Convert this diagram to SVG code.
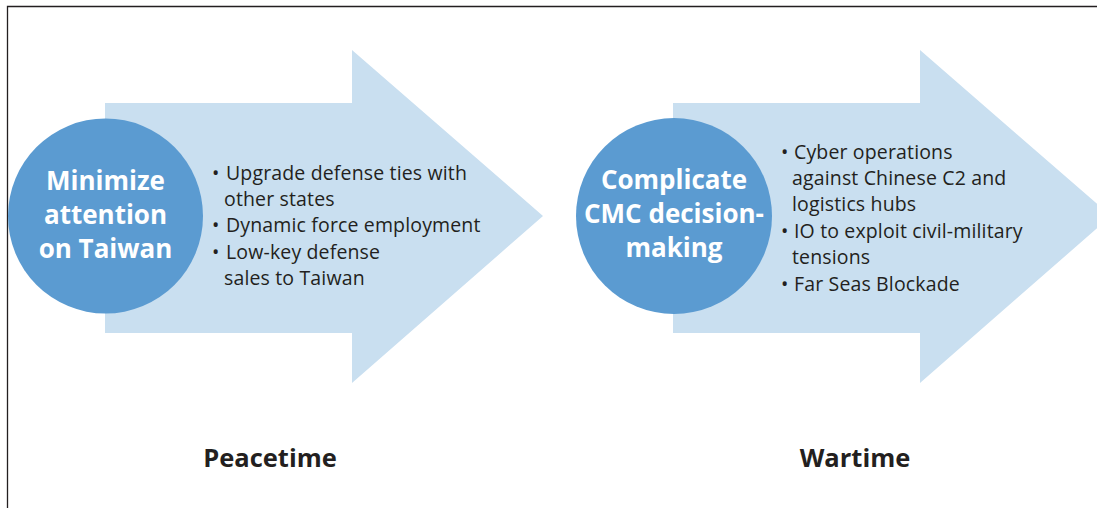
<svg xmlns="http://www.w3.org/2000/svg" width="1097" height="508" viewBox="0 0 1097 508">
<style>
.frame{fill:none;stroke:#231f20;stroke-width:1.3}
.arrow{fill:#c9dff0}
.circle{fill:#5b9bd1}
.ctitle{font-family:"Open Sans","Noto Sans",sans-serif;font-weight:700;font-size:26px;fill:#ffffff;text-anchor:middle}
.bul{font-family:"Open Sans","Noto Sans",sans-serif;font-size:19.5px;letter-spacing:0.15px;fill:#231f20}
.phase{font-family:"Open Sans","Noto Sans",sans-serif;font-weight:700;font-size:25.5px;fill:#231f20;text-anchor:middle}
</style>
<rect width="1097" height="508" fill="#ffffff"/>
<path class="frame" d="M7.5,508 V6.5 H1097"/>
<g id="peacetime">
<polygon class="arrow" points="105,103 352,103 352,50 543,216 352,383 352,333 105,333"/>
<circle class="circle" cx="105.5" cy="216" r="97.5"/>
<text class="ctitle" x="105.5" y="190">Minimize</text>
<text class="ctitle" x="105.5" y="224">attention</text>
<text class="ctitle" x="105.5" y="258">on Taiwan</text>
<text class="bul" x="212" y="180">•</text>
<text class="bul" x="226" y="180">Upgrade defense ties with</text>
<text class="bul" x="224" y="206">other states</text>
<text class="bul" x="212" y="232">•</text>
<text class="bul" x="226" y="232">Dynamic force employment</text>
<text class="bul" x="212" y="259">•</text>
<text class="bul" x="226" y="259">Low-key defense</text>
<text class="bul" x="224" y="285">sales to Taiwan</text>
<text class="phase" x="270" y="467">Peacetime</text>
</g>
<g id="wartime">
<polygon class="arrow" points="673,103 920,103 920,50 1111,216 920,383 920,333 673,333"/>
<circle class="circle" cx="674" cy="216" r="98"/>
<text class="ctitle" x="674" y="189">Complicate</text>
<text class="ctitle" x="674" y="223">CMC decision-</text>
<text class="ctitle" x="674" y="257">making</text>
<text class="bul" x="781" y="159">•</text>
<text class="bul" x="794" y="159">Cyber operations</text>
<text class="bul" x="792" y="185">against Chinese C2 and</text>
<text class="bul" x="792" y="211">logistics hubs</text>
<text class="bul" x="781" y="238">•</text>
<text class="bul" x="794" y="238">IO to exploit civil-military</text>
<text class="bul" x="792" y="264">tensions</text>
<text class="bul" x="781" y="291">•</text>
<text class="bul" x="794" y="291">Far Seas Blockade</text>
<text class="phase" x="855" y="467">Wartime</text>
</g>
<g id="connectors"/>
</svg>
